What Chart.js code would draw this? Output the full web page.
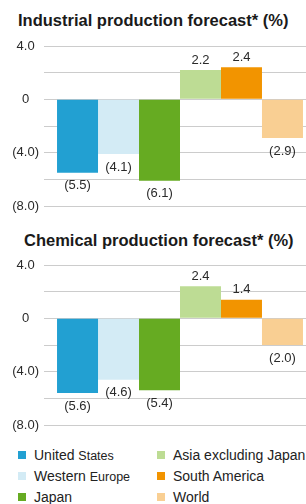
<!DOCTYPE html>
<html>
<head>
<meta charset="utf-8">
<script src="https://cdn.jsdelivr.net/npm/chart.js@4/dist/chart.umd.min.js"></script>
<style>
  html, body { margin: 0; padding: 0; background: #fff; }
  body { width: 306px; height: 504px; position: relative; overflow: hidden;
         font-family: "Liberation Sans", Arial, sans-serif; color: #222; }
  .title { position: absolute; font-weight: bold; font-size: 16.5px; line-height: 20px; white-space: nowrap; color: #1a1a1a; }
  canvas { position: absolute; left: 0; }
  .legend-item { position: absolute; height: 20px; display: flex; align-items: center; white-space: nowrap;
                 font-size: 14px; line-height: 20px; color: #222; }
  .legend-item i { display: inline-block; width: 8px; height: 8px; margin-right: 8px; flex: none; }
  .legend-item small { font-size: 12.5px; }
</style>
</head>
<body>
<div class="title" style="left:18px; top:10px;">Industrial production forecast* (%)</div>
<canvas id="industrial" width="306" height="190" style="top:30px;"></canvas>
<div class="title" style="left:24px; top:230px;">Chemical production forecast* (%)</div>
<canvas id="chemical" width="306" height="190" style="top:250px;"></canvas>
<div id="legend"></div>

<script>
const REGIONS = ['United States', 'Western Europe', 'Japan', 'Asia excluding Japan', 'South America', 'World'];
const REGION_COLORS = ['#22a0d2', '#d3ebf5', '#66ab22', '#bddc94', '#f29400', '#f9cf93'];
const INDUSTRIAL = [-5.5, -4.1, -6.1, 2.2, 2.4, -2.9];
const CHEMICAL = [-5.6, -4.6, -5.4, 2.4, 1.4, -2.0];
const Y_MIN = -8;
const Y_MAX = 4;
const Y_STEP = 2;
const Y_LABELED = [4, 0, -4, -8];

const FONT = '"Liberation Sans", Arial, sans-serif';

function formatValue(value) {
  if (value === 0) {
    return '0';
  }
  if (value < 0) {
    return `(${Math.abs(value).toFixed(1)})`;
  }
  return value.toFixed(1);
}

const valueLabels = {
  id: 'valueLabels',
  afterDatasetsDraw(chart) {
    const { ctx } = chart;
    ctx.save();
    ctx.font = `13px ${FONT}`;
    ctx.fillStyle = '#2a2a2a';
    ctx.textAlign = 'center';
    ctx.textBaseline = 'middle';
    chart.data.datasets.forEach((dataset, index) => {
      const bar = chart.getDatasetMeta(index).data[0];
      const value = dataset.data[0];
      const y = value >= 0 ? bar.y - 10 : bar.y + 13;
      ctx.fillText(formatValue(value), bar.x, y);
    });
    ctx.restore();
  },
};

function createChart(canvas, values, padding) {
  return new Chart(canvas, {
    type: 'bar',
    data: {
      labels: [''],
      datasets: REGIONS.map((region, index) => ({
        label: region,
        data: [values[index]],
        backgroundColor: REGION_COLORS[index],
        borderWidth: 0,
        barPercentage: 1,
        categoryPercentage: 0.976,
      })),
    },
    options: {
      responsive: false,
      animation: false,
      devicePixelRatio: 1,
      layout: { padding: { top: padding.top, bottom: padding.bottom, left: 0, right: 0 } },
      scales: {
        x: { display: false },
        y: {
          min: Y_MIN,
          max: Y_MAX,
          afterFit(scale) {
            scale.width = 54;
          },
          border: { display: false },
          grid: {
            color: '#cccccc',
            lineWidth: 1,
            drawTicks: true,
            tickLength: 10,
          },
          ticks: {
            stepSize: Y_STEP,
            crossAlign: 'center',
            padding: 5,
            color: '#2a2a2a',
            font: { family: FONT, size: 13 },
            callback(value) {
              return Y_LABELED.includes(value) ? formatValue(value) : '';
            },
          },
        },
      },
      plugins: {
        legend: { display: false },
        tooltip: { enabled: false },
      },
    },
    plugins: [valueLabels],
  });
}

createChart(document.getElementById('industrial'), INDUSTRIAL, { top: 16, bottom: 14 });
createChart(document.getElementById('chemical'), CHEMICAL, { top: 15, bottom: 15 });

// two-column legend, filled column by column
const legend = document.getElementById('legend');
const LEGEND_TEXT = [
  'United <small>States</small>',
  'Western <small>Europe</small>',
  'Japan',
  'Asia excluding Japan',
  'South America',
  'World',
];
REGIONS.forEach((region, index) => {
  const column = Math.floor(index / 3);
  const row = index % 3;
  const item = document.createElement('div');
  item.className = 'legend-item';
  item.style.left = column === 0 ? '18px' : '157px';
  item.style.top = `${445 + row * 21}px`;
  item.innerHTML = `<i style="background:${REGION_COLORS[index]}"></i><span>${LEGEND_TEXT[index]}</span>`;
  legend.appendChild(item);
});
</script>
</body>
</html>
